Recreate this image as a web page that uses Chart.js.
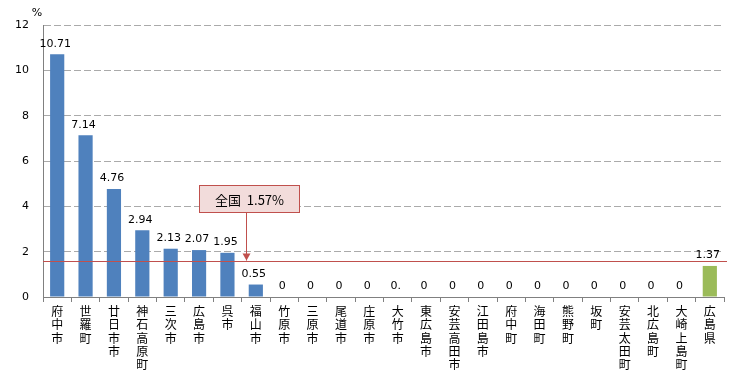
<!DOCTYPE html>
<html><head><meta charset="utf-8">
<script src="https://cdn.jsdelivr.net/npm/chart.js@4/dist/chart.umd.min.js"></script>
<style>html,body{margin:0;padding:0;background:#fff;}#wrap{width:756px;height:379px;}</style>
</head><body><div id="wrap"><canvas id="c" width="756" height="379"></canvas></div>
<script>
const categories = ["府中市","世羅町","廿日市市","神石高原町","三次市","広島市","呉市","福山市","竹原市","三原市","尾道市","庄原市","大竹市","東広島市","安芸高田市","江田島市","府中町","海田町","熊野町","坂町","安芸太田町","北広島町","大崎上島町","広島県"];
const values = [10.71,7.14,4.76,2.94,2.13,2.07,1.95,0.55,0,0,0,0,0,0,0,0,0,0,0,0,0,0,0,1.37];
const valueLabels = ["10.71","7.14","4.76","2.94","2.13","2.07","1.95","0.55","0","0","0","0","0.","0","0","0","0","0","0","0","0","0","0","1.37"];
const nationalValue = 1.57;
const nationalLabel = "全国  1.57%";
const yTicks = [0,2,4,6,8,10,12];

const FONT = "'Noto Sans CJK JP','DejaVu Sans',sans-serif";
const barColors = categories.map((c,i)=> i===categories.length-1 ? '#9BBB59' : '#4F81BD');

const overlay = {
  id:'overlay',
  afterDatasetsDraw(chart){
    const ctx = chart.ctx, xs = chart.scales.x, ys = chart.scales.y, ca = chart.chartArea;
    const meta = chart.getDatasetMeta(0);
    ctx.save();
    ctx.font = "11px 'DejaVu Sans',sans-serif";
    ctx.fillStyle = '#000';
    ctx.textAlign = 'center'; ctx.textBaseline = 'bottom';
    meta.data.forEach((el,i)=>{ ctx.fillText(valueLabels[i], el.x-2, el.y-5); });
    const yl = Math.round(ys.getPixelForValue(nationalValue))+0.5;
    ctx.strokeStyle = '#C0504D'; ctx.lineWidth = 1;
    ctx.beginPath(); ctx.moveTo(ca.left, yl); ctx.lineTo(ca.right+3, yl); ctx.stroke();
    const bx = 199.5, by = 185.5, bw = 100, bh = 27;
    const ax = 246.5;
    ctx.strokeStyle = '#C0504D';
    ctx.beginPath(); ctx.moveTo(ax, by+bh); ctx.lineTo(ax, yl-1); ctx.stroke();
    ctx.fillStyle = '#C0504D';
    ctx.beginPath(); ctx.moveTo(ax-4, yl-8); ctx.lineTo(ax+4, yl-8); ctx.lineTo(ax, yl-1); ctx.closePath(); ctx.fill();
    ctx.fillStyle = '#F2DCDB';
    ctx.fillRect(bx, by, bw, bh);
    ctx.strokeRect(bx, by, bw, bh);
    ctx.fillStyle = '#000';
    ctx.font = "13px " + FONT;
    ctx.textAlign = 'center'; ctx.textBaseline = 'middle';
    ctx.fillText(nationalLabel, bx+bw/2, by+bh/2+1);
    ctx.font = "11px 'DejaVu Sans',sans-serif";
    ctx.fillText('%', 37, 13);
    ctx.restore();
  }
};

new Chart(document.getElementById('c'), {
  type:'bar',
  data:{ labels: categories.map(s=>s.split('')), datasets:[{ data: values, backgroundColor: barColors, barPercentage:0.5, categoryPercentage:1.0 }]},
  options:{
    responsive:false, animation:false,
    layout:{ padding:{ top:25, right:32, left:0, bottom:0 } },
    plugins:{ legend:{display:false}, tooltip:{enabled:false} },
    scales:{
      x:{
        offset:true,
        grid:{ offset:true, drawOnChartArea:false, drawTicks:true, tickLength:5, color:'#808080' },
        border:{ color:'#808080', width:1 },
        ticks:{ color:'#000', font:{ family:FONT, size:12, lineHeight:1.1 }, padding:3, maxRotation:0, minRotation:0, autoSkip:false },
        afterFit(s){ s.height = 82; }
      },
      y:{
        min:0, max:12,
        afterBuildTicks(s){ s.ticks = yTicks.map(v=>({value:v})); },
        grid:{ drawTicks:false, color:(c)=> c.tick && c.tick.value===0 ? 'rgba(0,0,0,0)' : '#AAAAAA' },
        border:{ color:'#808080', width:1, dash:[7,3] },
        ticks:{ color:'#000', font:{ family:"'DejaVu Sans',sans-serif", size:11 }, padding:14 },
        afterFit(s){ s.width = 43; }
      }
    }
  },
  plugins:[overlay]
});
</script></body></html>
